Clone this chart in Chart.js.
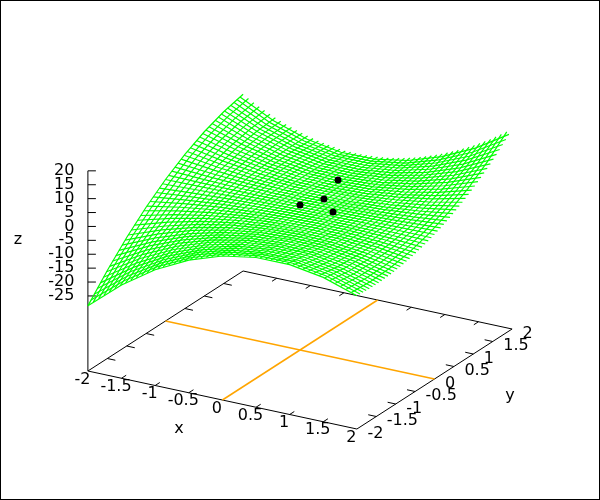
<!DOCTYPE html><html><head><meta charset="utf-8"><script src="https://cdn.jsdelivr.net/npm/chart.js@4"></script>
<style>html,body{margin:0;padding:0;background:#fff}canvas{display:block}#w{width:600px;height:500px}</style></head><body><div id="w"><canvas id="c" width="600" height="500"></canvas></div>
<script>
const tickVals=[-2,-1.5,-1,-0.5,0,0.5,1,1.5,2];
const zTicks=[20,15,10,5,0,-5,-10,-15,-20,-25];
const zFloor=-52;
const meshVals=[-2,-1.92,-1.84,-1.76,-1.68,-1.6,-1.52,-1.44,-1.36,-1.28,-1.2,-1.12,-1.04,-0.96,-0.88,-0.8,-0.72,-0.64,-0.56,-0.48,-0.4,-0.32,-0.24,-0.16,-0.08,0,0.08,0.16,0.24,0.32,0.4,0.48,0.56,0.64,0.72,0.8,0.88,0.96,1.04,1.12,1.2,1.28,1.36,1.44,1.52,1.6,1.68,1.76,1.84,1.92];
const dotX=[0,0.2,0.3,0.3];
const dotY=[0,0.27,0.46,0.33];
const dotZ=[0.2,0.9,6.6,-3.8];
// z, at y = tickVals
const zAlongY=[
[-28.58,-20.32,-12.98,-6.58,-1.1,3.46,7.08,9.78,11.56],
[-26.82,-19.05,-12.18,-6.18,-1.08,3.14,6.46,8.89,10.44],
[-25.13,-17.83,-11.38,-5.8,-1.06,2.82,5.86,8.05,9.37],
[-23.48,-16.65,-10.63,-5.43,-1.04,2.53,5.29,7.23,8.36],
[-21.86,-15.49,-9.89,-5.06,-1.01,2.26,4.75,6.47,7.4],
[-20.32,-14.37,-9.17,-4.71,-0.99,1.99,4.23,5.73,6.48],
[-18.83,-13.31,-8.49,-4.38,-0.97,1.74,3.73,5.03,5.63],
[-17.38,-12.28,-7.83,-4.06,-0.95,1.5,3.27,4.38,4.82],
[-16,-11.28,-7.2,-3.75,-0.93,1.27,2.82,3.76,4.06],
[-14.65,-10.33,-6.6,-3.46,-0.91,1.04,2.4,3.17,3.35],
[-13.35,-9.4,-6.01,-3.17,-0.88,0.85,2.03,2.64,2.71],
[-12.12,-8.52,-5.45,-2.9,-0.86,0.66,1.65,2.14,2.1],
[-10.93,-7.69,-4.92,-2.64,-0.84,0.48,1.32,1.67,1.55],
[-9.8,-6.89,-4.42,-2.4,-0.82,0.32,1,1.25,1.04],
[-8.72,-6.13,-3.95,-2.17,-0.8,0.17,0.71,0.87,0.6],
[-7.68,-5.41,-3.49,-1.96,-0.78,0.02,0.45,0.51,0.2],
[-6.7,-4.71,-3.06,-1.74,-0.75,-0.1,0.22,0.21,-0.14],
[-5.77,-4.06,-2.66,-1.55,-0.73,-0.21,0.02,-0.06,-0.43],
[-4.9,-3.46,-2.29,-1.37,-0.71,-0.31,-0.17,-0.3,-0.68],
[-4.07,-2.89,-1.93,-1.2,-0.69,-0.4,-0.33,-0.49,-0.87],
[-3.3,-2.36,-1.61,-1.05,-0.67,-0.47,-0.46,-0.61,-0.93],
[-2.57,-1.88,-1.32,-0.91,-0.65,-0.53,-0.56,-0.71,-0.96],
[-1.91,-1.42,-1.05,-0.79,-0.63,-0.59,-0.63,-0.76,-0.94],
[-1.28,-1,-0.8,-0.66,-0.6,-0.62,-0.67,-0.76,-0.85],
[-0.72,-0.63,-0.57,-0.56,-0.58,-0.64,-0.69,-0.74,-0.74],
[-0.2,-0.29,-0.38,-0.47,-0.56,-0.64,-0.7,-0.68,-0.56],
[0.27,0.01,-0.22,-0.39,-0.54,-0.64,-0.67,-0.57,-0.33],
[0.67,0.26,-0.07,-0.33,-0.52,-0.62,-0.61,-0.44,-0.05],
[1.04,0.48,0.04,-0.28,-0.5,-0.59,-0.53,-0.26,0.27],
[1.35,0.68,0.15,-0.24,-0.47,-0.55,-0.42,-0.03,0.66],
[1.61,0.82,0.21,-0.21,-0.45,-0.5,-0.29,0.21,1.1],
[1.82,0.92,0.24,-0.2,-0.43,-0.43,-0.13,0.52,1.59],
[1.97,0.99,0.26,-0.2,-0.41,-0.35,0.06,0.85,2.13],
[2.07,1.01,0.25,-0.22,-0.39,-0.25,0.25,1.22,2.71],
[2.13,1,0.21,-0.24,-0.37,-0.15,0.5,1.63,3.35],
[2.13,0.96,0.15,-0.27,-0.34,-0.02,0.77,2.09,4.05],
[2.08,0.86,0.07,-0.34,-0.32,0.12,1.05,2.58,4.79],
[1.98,0.74,-0.05,-0.4,-0.3,0.26,1.36,3.1,5.59],
[1.82,0.57,-0.2,-0.48,-0.28,0.42,1.7,3.67,6.4],
[1.61,0.36,-0.36,-0.57,-0.26,0.59,2.06,4.24,7.25],
[1.35,0.12,-0.56,-0.67,-0.24,0.77,2.44,4.86,8.13],
[1.05,-0.15,-0.76,-0.78,-0.21,0.98,2.86,5.53,9.09],
[0.69,-0.48,-1.01,-0.92,-0.19,1.18,3.29,6.22,10.09],
[0.28,-0.83,-1.28,-1.06,-0.17,1.4,3.74,6.95,11.12],
[-0.19,-1.23,-1.57,-1.22,-0.15,1.64,4.23,7.73,12.23],
[-0.7,-1.68,-1.9,-1.39,-0.13,1.89,4.74,8.54,13.38],
[-1.27,-2.15,-2.24,-1.57,-0.11,2.15,5.28,9.39,14.57],
[-1.89,-2.66,-2.62,-1.76,-0.09,2.42,5.84,10.28,15.83],
[-2.55,-3.21,-3.01,-1.96,-0.06,2.72,6.43,11.21,17.15],
[-3.27,-3.8,-3.43,-2.19,-0.04,3.01,7.05,12.18,18.49]];
// z, at x = tickVals
const zAlongX=[
[-28.57,-18.46,-10.36,-4.28,-0.2,1.86,1.9,-0.06,-4.05],
[-27.19,-17.54,-9.84,-4.06,-0.21,1.7,1.68,-0.28,-4.17],
[-25.83,-16.66,-9.33,-3.86,-0.23,1.54,1.45,-0.48,-4.27],
[-24.5,-15.78,-8.83,-3.65,-0.24,1.39,1.25,-0.66,-4.34],
[-23.19,-14.91,-8.34,-3.46,-0.26,1.24,1.06,-0.83,-4.41],
[-21.89,-14.07,-7.86,-3.26,-0.27,1.1,0.88,-0.97,-4.43],
[-20.63,-13.25,-7.4,-3.08,-0.29,0.96,0.7,-1.11,-4.43],
[-19.39,-12.45,-6.94,-2.9,-0.3,0.84,0.54,-1.21,-4.41],
[-18.18,-11.66,-6.51,-2.73,-0.32,0.73,0.39,-1.3,-4.38],
[-16.98,-10.88,-6.08,-2.55,-0.33,0.61,0.26,-1.38,-4.3],
[-15.81,-10.13,-5.66,-2.39,-0.34,0.51,0.14,-1.43,-4.21],
[-14.66,-9.4,-5.26,-2.24,-0.36,0.4,0.02,-1.48,-4.1],
[-13.54,-8.67,-4.86,-2.09,-0.37,0.31,-0.08,-1.49,-3.96],
[-12.44,-7.98,-4.48,-1.95,-0.39,0.21,-0.16,-1.5,-3.8],
[-11.36,-7.3,-4.11,-1.81,-0.4,0.13,-0.23,-1.48,-3.62],
[-10.31,-6.63,-3.76,-1.68,-0.42,0.04,-0.3,-1.45,-3.41],
[-9.28,-5.98,-3.41,-1.55,-0.43,-0.03,-0.35,-1.4,-3.18],
[-8.29,-5.36,-3.08,-1.44,-0.45,-0.1,-0.4,-1.34,-2.93],
[-7.3,-4.75,-2.75,-1.32,-0.46,-0.16,-0.43,-1.25,-2.64],
[-6.34,-4.15,-2.44,-1.21,-0.47,-0.21,-0.44,-1.15,-2.34],
[-5.41,-3.58,-2.15,-1.12,-0.49,-0.26,-0.45,-1.02,-2.01],
[-4.5,-3.02,-1.85,-1.02,-0.5,-0.3,-0.43,-0.88,-1.66],
[-3.62,-2.48,-1.58,-0.93,-0.52,-0.35,-0.42,-0.74,-1.28],
[-2.75,-1.95,-1.32,-0.84,-0.53,-0.38,-0.38,-0.55,-0.89],
[-1.91,-1.45,-1.07,-0.77,-0.55,-0.41,-0.35,-0.37,-0.47],
[-1.1,-0.97,-0.83,-0.7,-0.56,-0.43,-0.29,-0.16,-0.02],
[-0.31,-0.5,-0.6,-0.63,-0.57,-0.43,-0.22,0.08,0.45],
[0.46,-0.05,-0.39,-0.57,-0.59,-0.45,-0.15,0.31,0.94],
[1.2,0.39,-0.18,-0.51,-0.6,-0.45,-0.06,0.59,1.46],
[1.92,0.8,0,-0.47,-0.62,-0.45,0.04,0.86,2],
[2.62,1.2,0.19,-0.42,-0.63,-0.43,0.18,1.17,2.57],
[3.29,1.58,0.36,-0.39,-0.64,-0.42,0.3,1.5,3.17],
[3.94,1.95,0.51,-0.36,-0.65,-0.38,0.45,1.83,3.78],
[4.56,2.28,0.65,-0.34,-0.66,-0.36,0.61,2.2,4.44],
[5.16,2.61,0.79,-0.32,-0.67,-0.31,0.78,2.58,5.11],
[5.74,2.92,0.91,-0.3,-0.68,-0.25,0.98,2.99,5.81],
[6.3,3.21,1.01,-0.3,-0.69,-0.2,1.18,3.42,6.53],
[6.82,3.49,1.11,-0.29,-0.69,-0.13,1.41,3.87,7.3],
[7.33,3.73,1.2,-0.31,-0.7,-0.05,1.65,4.34,8.08],
[7.81,3.99,1.28,-0.31,-0.7,0.04,1.91,4.84,8.9],
[8.27,4.2,1.33,-0.33,-0.7,0.13,2.18,5.35,9.74],
[8.71,4.4,1.38,-0.35,-0.7,0.24,2.48,5.9,10.61],
[9.12,4.58,1.41,-0.39,-0.69,0.36,2.79,6.46,11.52],
[9.51,4.76,1.44,-0.41,-0.68,0.5,3.12,7.06,12.45],
[9.87,4.91,1.46,-0.44,-0.68,0.64,3.47,7.68,13.42],
[10.21,5.03,1.45,-0.5,-0.66,0.79,3.84,8.32,14.42],
[10.54,5.14,1.45,-0.55,-0.65,0.96,4.23,9,15.46],
[10.82,5.24,1.43,-0.61,-0.63,1.12,4.65,9.7,16.52],
[11.09,5.32,1.4,-0.67,-0.61,1.31,5.08,10.42,17.61],
[11.34,5.37,1.35,-0.75,-0.59,1.51,5.53,11.17,18.74]];

// gnuplot-like oblique view of the 3D box, into the page-sized linear scales
const P=(x,y,z)=>({x:300+67.25*x+38.8*y,y:350+14.5*x-25*y-2.78*(z-zFloor)});
const ds=[];
const line=(pts,c,w,o)=>ds.push({data:pts,borderColor:c,borderWidth:w,pointRadius:0,showLine:true,order:o,fill:false});
meshVals.forEach((x,i)=>line(tickVals.map((y,k)=>P(x,y,zAlongY[i][k])),'#00ff00',1.2,1));
meshVals.forEach((y,j)=>line(tickVals.map((x,k)=>P(x,y,zAlongX[j][k])),'#00ff00',1.2,1));
const b=zFloor,L=.12;
line([P(-2,-2,b),P(2,-2,b),P(2,2,b),P(-2,2,b),P(-2,-2,b)],'#000',1,3);
line([P(0,-2,b),P(0,2,b)],'#ffa500',1.5,2);
line([P(-2,0,b),P(2,0,b)],'#ffa500',1.5,2);
line([P(-2,-2,b),P(-2,-2,zTicks[0])],'#000',1,3);
for(const t of tickVals.slice(1,-1)){ if(t!==0){
line([P(t,-2,b),P(t,-2+L,b)],'#000',1,3);line([P(t,2,b),P(t,2-L,b)],'#000',1,3);
line([P(-2,t,b),P(-2+L,t,b)],'#000',1,3);line([P(2,t,b),P(2-L,t,b)],'#000',1,3);}}
for(const z of zTicks){const a=P(-2,-2,z);line([a,{x:a.x+8,y:a.y}],'#000',1,3);}
ds.push({data:dotX.map((x,i)=>P(x,dotY[i],dotZ[i])),pointRadius:3.5,backgroundColor:'#000',borderWidth:0,showLine:false,order:0});
const labels={id:'l',afterDraw(ch){const c=ch.ctx;c.save();c.fillStyle='#000';c.font='16px "DejaVu Sans"';c.textBaseline='middle';
c.textAlign='center';for(const t of tickVals){const a=P(t,-2,b);c.fillText(String(t),a.x-5.5,a.y+8.5);}
c.textAlign='left';for(const t of tickVals){const a=P(2,t,b);c.fillText(String(t),a.x+10.5,a.y+4.5);}
c.textAlign='right';for(const z of zTicks){const a=P(-2,-2,z);c.fillText(String(z),a.x-13.5,a.y);}
c.textAlign='center';c.fillText('x',179,429);c.fillText('y',510,396);c.fillText('z',18,240);c.restore();
c.save();c.strokeStyle='#000';c.lineWidth=1;c.strokeRect(.5,.5,599,499);c.restore();}};
new Chart(document.getElementById('c'),{type:'scatter',data:{datasets:ds},plugins:[labels],options:{responsive:false,animation:false,
layout:{padding:0,autoPadding:false},plugins:{legend:{display:false},tooltip:{enabled:false}},
scales:{x:{type:'linear',min:0,max:600,display:false},y:{type:'linear',min:0,max:500,reverse:true,display:false}}}});
</script></body></html>
